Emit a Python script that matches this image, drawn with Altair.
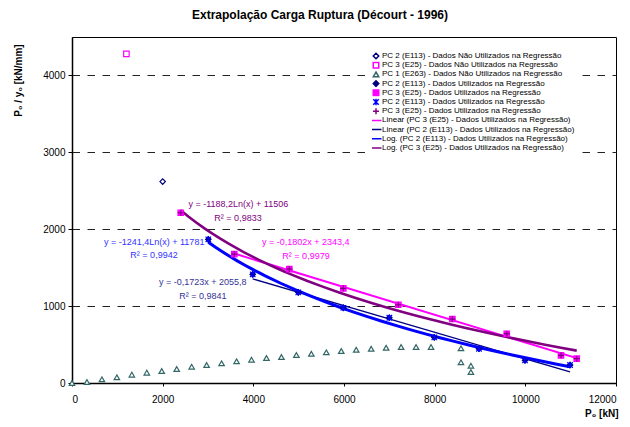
import altair as alt
import pandas as pd

FONT = "Liberation Sans"
title_text = "Extrapolação Carga Ruptura (Décourt - 1996)"

# ---- data ----
pc2_nu_x = [2000]
pc2_nu_y = [2620]
pc3_nu_x = [1200]
pc3_nu_y = [4280]
pc1_x = [0, 330, 660, 990, 1320, 1650, 1980, 2310, 2640, 2970, 3300, 3630, 3960, 4290, 4620,
         4950, 5280, 5610, 5940, 6270, 6600, 6930, 7260, 7590, 7920, 8580, 8580, 8800, 8800]
pc1_y = [0, 13, 48, 74, 108, 134, 156, 182, 212, 234, 256, 282, 303, 325, 338,
         364, 381, 399, 416, 433, 446, 459, 468, 468, 468, 451, 269, 225, 143]
pc2_x = [3007, 3986, 4992, 5985, 7000, 7992, 8978, 9993, 10986]
pc2_y = [1868, 1413, 1179, 978, 849, 594, 445, 295, 234]
pc3_x = [2398, 3580, 4794, 5985, 7198, 8390, 9590, 10787, 11134]
pc3_y = [2214, 1677, 1482, 1231, 1018, 832, 641, 360, 316]

series_ids = ["s00", "s01", "s02", "s03", "s04", "s05", "s06", "s07", "s08", "s09", "s10"]
series_labels = [
    "PC 2 (E113) - Dados Não Utilizados na Regressão",
    "PC 3 (E25) - Dados Não Utilizados na Regressão",
    "PC 1 (E263) - Dados Não Utilizados na Regressão",
    "PC 2 (E113) - Dados Utilizados na Regressão",
    "PC 3 (E25) - Dados Utilizados na Regressão",
    "PC 2 (E113) - Dados Utilizados na Regressão",
    "PC 3 (E25) - Dados Utilizados na Regressão",
    "Linear (PC 3 (E25) - Dados Utilizados na Regressão)",
    "Linear (PC 2 (E113) - Dados Utilizados na Regressão)",
    "Log. (PC 2 (E113) - Dados Utilizados na Regressão)",
    "Log. (PC 3 (E25) - Dados Utilizados na Regressão)",
]
stroke_colors = ["#000080", "#FF00FF", "#336666", "#000080", "#FF00FF", "#0000FF", "#800080",
                 "#FF00FF", "#000080", "#0000FF", "#800080"]
fill_colors = ["white", "white", "white", "#000080", "#FF00FF", "transparent", "transparent",
               "transparent", "transparent", "transparent", "transparent"]
ASTER = "M-1,-1L1,1M-1,1L1,-1M0,-1.2L0,1.2"
PLUS = "M-1.1,0L1.1,0M0,-1.1L0,1.1"
LINE = "M-2,0L2,0"
shapes = ["diamond", "square", "triangle-up", "diamond", "square", ASTER, PLUS, LINE, LINE, LINE, LINE]

eq_text = ["y = -1188,2Ln(x) + 11506", "R² = 0,9833",
           "y = -1241,4Ln(x) + 11781", "R² = 0,9942",
           "y = -0,1802x + 2343,4", "R² = 0,9979",
           "y = -0,1723x + 2055,8", "R² = 0,9841"]
eq_color = ["#800080", "#800080", "#3333FF", "#3333FF", "#FF00FF", "#FF00FF", "#333399", "#333399"]
eq_x = [3669, 3662, 1813, 1809, 5158, 5162, 2885, 2885]
eq_y = [2328, 2150, 1830, 1665, 1830, 1656, 1318, 1135]

# ---- tables ----
rows = []
for sid, xs, ys in [("s02", pc1_x, pc1_y), ("s00", pc2_nu_x, pc2_nu_y), ("s01", pc3_nu_x, pc3_nu_y),
                    ("s03", pc2_x, pc2_y), ("s04", pc3_x, pc3_y),
                    ("s05", pc2_x, pc2_y), ("s06", pc3_x, pc3_y)]:
    for a, b in zip(xs, ys):
        rows.append({"sid": sid, "x": a, "y": b})
df = pd.DataFrame(rows)
df_eq = pd.DataFrame({"x": eq_x, "y": eq_y, "t": eq_text, "c": eq_color})

label_expr = ("[" + ",".join("'%s'" % l for l in series_labels) + "][indexof(["
              + ",".join("'%s'" % s for s in series_ids) + "], datum.value)]")

legend = alt.Legend(orient="none", legendX=297, legendY=12, title=None, labelExpr=label_expr,
                    labelFont=FONT, labelFontSize=8, labelColor="black", labelLimit=400,
                    symbolSize=30, symbolStrokeWidth=1.5, rowPadding=1.2, labelOffset=2,
                    clipHeight=8, padding=3, fillColor="white")

X = alt.X("x:Q", scale=alt.Scale(domain=[0, 12000], nice=False),
          axis=alt.Axis(values=list(range(0, 12001, 2000)), format="d", grid=False, title="P₀ [kN]",
                        titleAnchor="end", titleAlign="right", titleX=546, titleY=30,
                        titleBaseline="middle", tickSize=3, labelPadding=8))
Y = alt.Y("y:Q", scale=alt.Scale(domain=[0, 4500], nice=False),
          axis=alt.Axis(values=list(range(0, 4501, 500)), format="d", grid=True, gridDash=[7.5, 7.5],
                        gridColor="#222", gridWidth=1, title="P₀ / y₀ [kN/mm]",
                        titleX=-54, titleY=43, titleAlign="center", titleBaseline="middle",
                        tickSize=4, labelPadding=3))

stroke_enc = alt.Stroke("sid:N", scale=alt.Scale(domain=series_ids, range=stroke_colors), legend=legend)
fill_enc = alt.Fill("sid:N", scale=alt.Scale(domain=series_ids, range=fill_colors), legend=legend)
shape_enc = alt.Shape("sid:N", scale=alt.Scale(domain=series_ids, range=shapes), legend=legend)


def fit_layer(src, xmin, method, new_id, width):
    return (alt.Chart(df)
            .transform_filter(f"datum.sid == '{src}' && datum.x >= {xmin}")
            .transform_regression("x", "y", method=method)
            .transform_calculate(sid=f"'{new_id}'")
            .mark_line(strokeWidth=width)
            .encode(x=X, y=Y, stroke=stroke_enc))


lines = [
    fit_layer("s04", 3500, "linear", "s07", 2),
    fit_layer("s03", 3900, "linear", "s08", 1.3),
    fit_layer("s03", 2900, "log", "s09", 3),
    fit_layer("s04", 2300, "log", "s10", 2.6),
]

points = alt.Chart(df).mark_point(size=30, opacity=1, strokeWidth=1.2).encode(
    x=X, y=Y, stroke=stroke_enc, fill=fill_enc, shape=shape_enc)

texts = alt.Chart(df_eq).mark_text(font=FONT, fontSize=9, align="center", baseline="middle").encode(
    x=alt.X("x:Q"), y=alt.Y("y:Q"), text="t:N", color=alt.Color("c:N", scale=None))

chart = alt.layer(*lines, points, texts).properties(
    width=544, height=346,
    title=alt.TitleParams(title_text, font=FONT, fontSize=12, fontWeight="bold", anchor="middle",
                          dx=-24, offset=15, color="black"),
    autosize=alt.AutoSizeParams(type="none"),
    padding={"left": 64, "top": 29, "right": 6, "bottom": 36},
).configure_view(stroke="black", strokeWidth=1).configure_axis(
    labelFont=FONT, labelFontSize=10, labelColor="black", titleFont=FONT, titleFontSize=10,
    titleFontWeight="bold", titleColor="black", domainColor="black", domainWidth=1.5,
    tickColor="black")

chart.save("out.html", embed_options={"renderer": "svg", "actions": False})
